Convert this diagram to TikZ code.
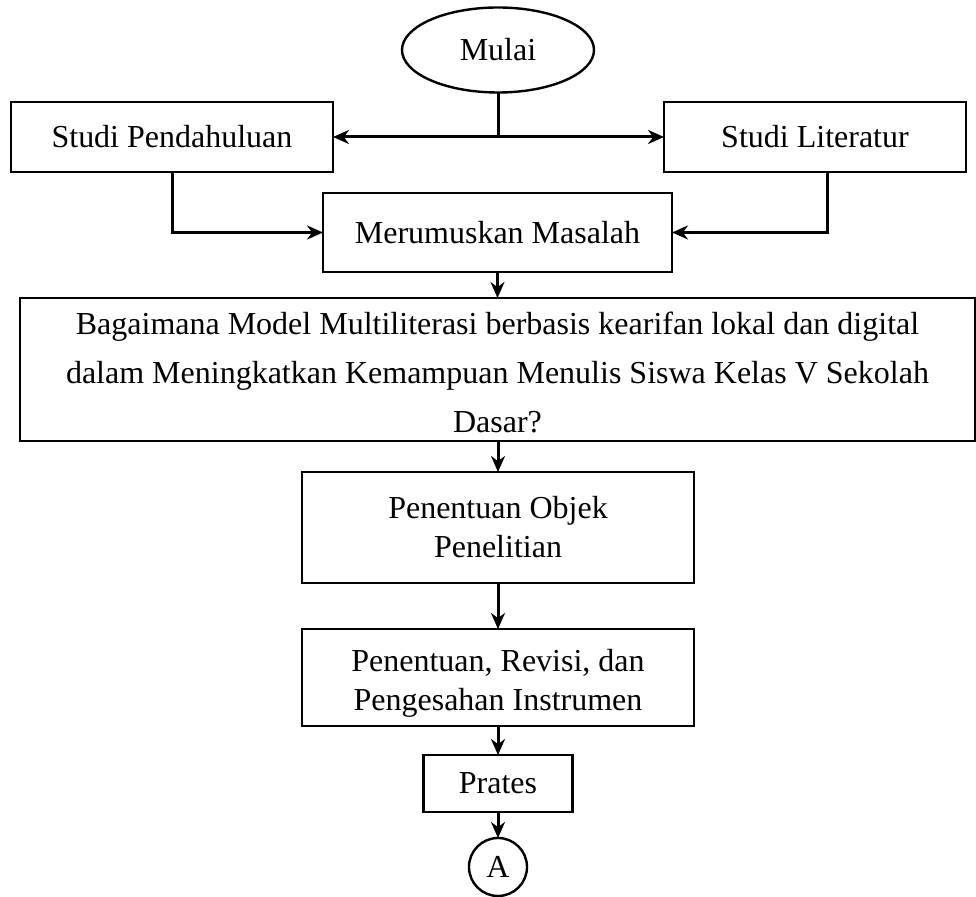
\documentclass[tikz,border=0pt]{standalone}
\usepackage{fontspec}
\setmainfont{Liberation Serif}
\usetikzlibrary{arrows.meta,shapes.geometric}
\begin{document}
\begin{tikzpicture}[x=0.5pt,y=-0.5pt,
  box/.style={draw,line width=1.2pt,rectangle,inner sep=0pt,outer sep=0pt,align=center,font=\fontsize{16}{19.5}\selectfont},
  conn/.style={line width=1.5pt,-{Stealth[length=8pt,width=7pt]}},
  plain/.style={line width=1.5pt}]
\useasboundingbox (0,0) rectangle (976,897);
\node[draw,line width=1.2pt,ellipse,minimum width=96pt,minimum height=42.5pt,inner sep=0pt,outer sep=0pt,font=\fontsize{16}{19.5}\selectfont] (mulai) at (498,50) {Mulai};
\node[box,minimum width=161pt,minimum height=35pt] (sp) at (172,137) {Studi Pendahuluan};
\node[box,minimum width=151pt,minimum height=35pt] (sl) at (815,137) {Studi Literatur};
\node[box,minimum width=174.5pt,minimum height=39.5pt] (mm) at (497.5,232.5) {Merumuskan Masalah};
\node[box,minimum width=477.5pt,minimum height=71.5pt,font=\fontsize{16}{24.5}\selectfont] (rm) at (497.5,369.5) {\rule{0pt}{14pt}Bagaimana Model Multiliterasi berbasis kearifan lokal dan digital\\dalam Meningkatkan Kemampuan Menulis Siswa Kelas V Sekolah\\Dasar?};
\node[box,minimum width=196pt,minimum height=55.5pt] (po) at (498,527.5) {Penentuan Objek\\Penelitian};
\node[box,minimum width=196pt,minimum height=48.5pt] (pr) at (498,677.5) {\rule{0pt}{17pt}Penentuan, Revisi, dan\\Pengesahan Instrumen};
\node[box,minimum width=74.5pt,minimum height=28.5pt] (pt) at (498,783.5) {Prates};
\node[draw,line width=1.2pt,circle,minimum size=29pt,inner sep=0pt,outer sep=0pt,font=\fontsize{16}{19.5}\selectfont] (a) at (498,867) {A};
\coordinate (j) at (498,137);
\draw[plain] (mulai.south) -- (j);
\draw[conn] (j) -- (sp.east);
\draw[conn] (j) -- (sl.west);
\draw[conn] (sp.south) |- (mm.west);
\draw[conn] (sl.south -| 827,0) |- (mm.east);
\draw[conn] (mm.south) -- (rm.north);
\draw[conn] (rm.south -| po.north) -- (po.north);
\draw[conn] (po.south) -- (pr.north);
\draw[conn] (pr.south) -- (pt.north);
\draw[conn] (pt.south) -- (a.north);
\end{tikzpicture}
\end{document}
